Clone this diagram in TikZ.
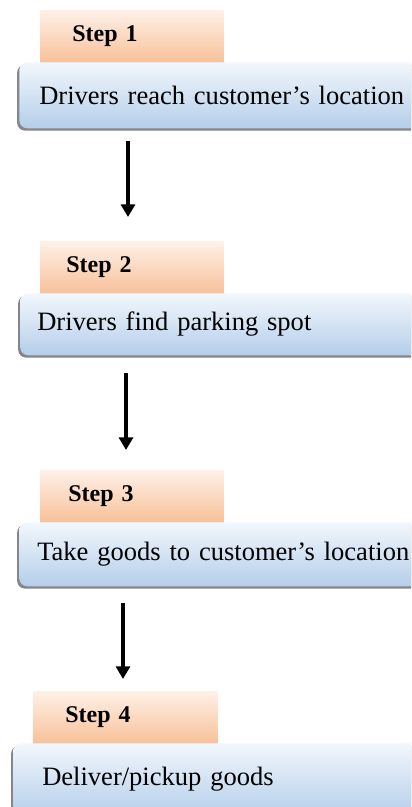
\documentclass[tikz,border=0pt]{standalone}
\usepackage{fontspec}
\setmainfont{Liberation Serif}
\usetikzlibrary{arrows.meta,shadows}
\definecolor{orTop}{HTML}{FEF1E8}
\definecolor{orBot}{HTML}{F8C19A}
\definecolor{blTop}{HTML}{F2F7FC}
\definecolor{blBot}{HTML}{B5CEEA}
\definecolor{shd}{HTML}{6E7178}
\begin{document}
\begin{tikzpicture}[x=0.75pt,y=-0.75pt,
  stepbox/.style={rectangle, anchor=north west, top color=orTop, bottom color=orBot,
    minimum width=137.25pt, minimum height=39pt, inner xsep=0pt, inner ysep=0pt,
    text width=137.25pt, align=left, font=\fontsize{18}{20}\selectfont\bfseries},
  actbox/.style={rectangle, rounded corners=6pt, anchor=north west, top color=blTop, bottom color=blBot,
    minimum width=315.75pt, inner xsep=0pt, inner ysep=0pt,
    text width=315.75pt, align=left, font=\fontsize{19.9}{22}\selectfont,
    drop shadow={shadow xshift=-1.6pt, shadow yshift=-1.8pt, fill=shd, opacity=0.85}},
  arr/.style={line width=2.4pt, -{Triangle[width=10.5pt,length=9.5pt]}}]
\useasboundingbox (0,0) rectangle (411,807);
\clip (0,0) rectangle (411,807);

\node[stepbox] (s1) at (40,10) {\hspace*{24pt}Step 1};
\node[actbox, minimum height=49.5pt] (b1) at (19,62) {\hspace*{15pt}Drivers reach customer’s location};

\node[stepbox] (s2) at (40,241) {\hspace*{19.5pt}Step 2};
\node[actbox, minimum height=46.5pt] (b2) at (20,293) {\hspace*{12.75pt}Drivers find parking spot};

\node[stepbox] (s3) at (40,470) {\hspace*{21pt}Step 3};
\node[actbox, minimum height=48pt] (b3) at (19,522) {\hspace*{13.5pt}Take goods to customer’s location};

\node[stepbox, minimum width=138pt, text width=138pt] (s4) at (33,691) {\hspace*{24pt}Step 4};
\node[actbox, minimum height=54pt] (b4) at (13,743) {\hspace*{21.75pt}Deliver/pickup goods};

\coordinate (a1s) at (128,141);
\coordinate (a1e) at (128,217);
\coordinate (a2s) at (126,373);
\coordinate (a2e) at (126,450);
\coordinate (a3s) at (123,603);
\coordinate (a3e) at (123,679);
\draw[arr] (a1s) -- (a1e);
\draw[arr] (a2s) -- (a2e);
\draw[arr] (a3s) -- (a3e);
\end{tikzpicture}
\end{document}
